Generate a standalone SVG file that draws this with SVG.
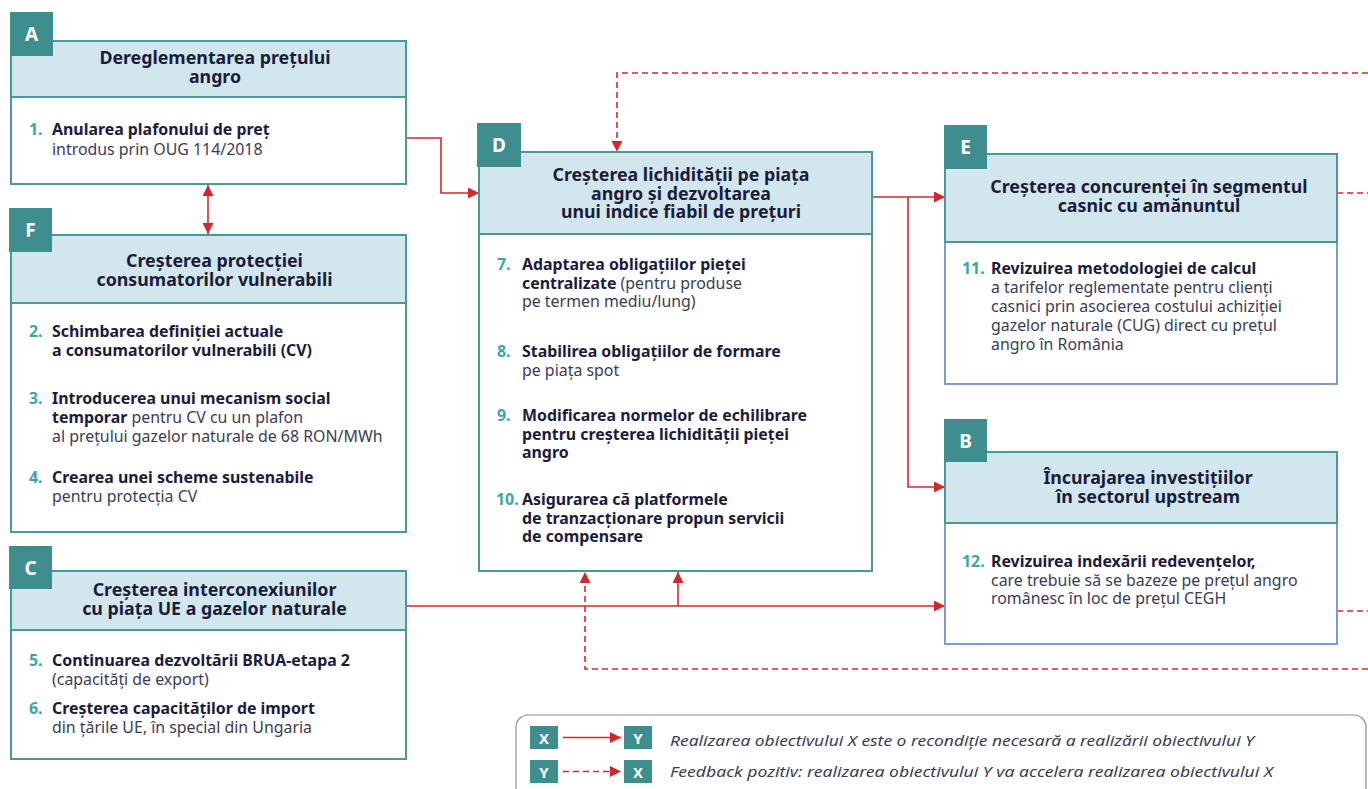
<svg xmlns="http://www.w3.org/2000/svg" width="1368" height="789" viewBox="0 0 1368 789">
  <defs>
    <marker id="arr" viewBox="0 0 10 10" refX="10" refY="5" markerWidth="11" markerHeight="11" markerUnits="userSpaceOnUse" orient="auto-start-reverse">
      <path d="M0,0 L10,5 L0,10 z" fill="#d2282d"/>
    </marker>
    <style>
      .hdr { fill: #d2e7ed; stroke: #4a9899; stroke-width: 2; }
      .body { fill: #ffffff; stroke: #4a9899; stroke-width: 2; }
      .bodyb { fill: #ffffff; stroke: #7b9ccf; stroke-width: 2; }
      .tag { fill: #3e8e8f; }
      .tagt { font-family: "Noto Sans", "Liberation Sans", sans-serif; font-weight: 700; font-size: 19px; fill: #ffffff; text-anchor: middle; }
      .ttl { font-family: "Noto Sans", "Liberation Sans", sans-serif; font-weight: 700; font-size: 17.8px; fill: #1b1c3c; text-anchor: middle; }
      .it { font-family: "Noto Sans", "Liberation Sans", sans-serif; font-size: 15.9px; fill: #3b3c55; }
      .b { font-weight: 700; fill: #1b1c3c; }
      .num { font-family: "Noto Sans", "Liberation Sans", sans-serif; font-weight: 700; font-size: 15.9px; fill: #3aa6a8; }
      .ln { fill: none; stroke: #d2282d; stroke-width: 1.6; }
      .dash { stroke-dasharray: 6 4; }
      .leg { font-family: "Noto Sans", "Liberation Sans", sans-serif; font-style: italic; font-size: 14.5px; fill: #3b3c55; }
    </style>
  </defs>

  <g id="connectors">
    <path class="ln" d="M406,138 H441 V193 H479" marker-end="url(#arr)"/>
    <path class="ln" d="M208,185 V234" marker-start="url(#arr)" marker-end="url(#arr)"/>
    <path class="ln" d="M872,197 H945" marker-end="url(#arr)"/>
    <path class="ln" d="M908,197 V487 H945" marker-end="url(#arr)"/>
    <path class="ln" d="M406,606 H945" marker-end="url(#arr)"/>
    <path class="ln" d="M678,606 V572" marker-end="url(#arr)"/>
    <path class="ln dash" d="M1368,73 H617 V152" marker-end="url(#arr)"/>
    <path class="ln dash" d="M1337,193 H1368"/>
    <path class="ln dash" d="M1337,611 H1368"/>
    <path class="ln dash" d="M1368,669 H585 V572" marker-end="url(#arr)"/>
  </g>

  <!-- A -->
  <g id="nodeA">
    <rect class="body" x="11" y="97" width="395" height="87"/>
    <rect class="hdr" x="11" y="41" width="395" height="56"/>
    <rect class="tag" x="10" y="12" width="43" height="44"/>
    <text class="tagt" x="31.5" y="41">A</text>
    <text class="ttl" x="215" y="64">Dereglementarea prețului<tspan x="215" dy="19">angro</tspan></text>
    <text class="num" x="29" y="135">1.</text>
    <text class="it" x="52" y="135"><tspan class="b">Anularea plafonului de preț</tspan><tspan x="52" dy="20">introdus prin OUG 114/2018</tspan></text>
  </g>

  <!-- F -->
  <g id="nodeF">
    <rect class="body" x="11" y="303" width="395" height="229"/>
    <rect class="hdr" x="11" y="235" width="395" height="68"/>
    <rect class="tag" x="9" y="208" width="43" height="44"/>
    <text class="tagt" x="30.5" y="237">F</text>
    <text class="ttl" x="214.5" y="267">Creșterea protecției<tspan x="214.5" dy="19">consumatorilor vulnerabili</tspan></text>
    <text class="num" x="29" y="337">2.</text>
    <text class="it" x="52" y="337"><tspan class="b">Schimbarea definiției actuale</tspan><tspan class="b" x="52" dy="19">a consumatorilor vulnerabili (CV)</tspan></text>
    <text class="num" x="29" y="404">3.</text>
    <text class="it" x="52" y="404"><tspan class="b">Introducerea unui mecanism social</tspan><tspan class="b" x="52" dy="19">temporar</tspan> pentru CV cu un plafon<tspan x="52" dy="19">al prețului gazelor naturale de 68 RON/MWh</tspan></text>
    <text class="num" x="29" y="483">4.</text>
    <text class="it" x="52" y="483"><tspan class="b">Crearea unei scheme sustenabile</tspan><tspan x="52" dy="19">pentru protecția CV</tspan></text>
  </g>

  <!-- C -->
  <g id="nodeC">
    <rect class="body" x="11" y="630" width="395" height="129"/>
    <rect class="hdr" x="11" y="571" width="395" height="59"/>
    <rect class="tag" x="9" y="546" width="43" height="43"/>
    <text class="tagt" x="30.5" y="575">C</text>
    <text class="ttl" x="214.5" y="596">Creșterea interconexiunilor<tspan x="214.5" dy="19">cu piața UE a gazelor naturale</tspan></text>
    <text class="num" x="29" y="666">5.</text>
    <text class="it" x="52" y="666"><tspan class="b">Continuarea dezvoltării BRUA-etapa 2</tspan><tspan x="52" dy="19">(capacități de export)</tspan></text>
    <text class="num" x="29" y="714">6.</text>
    <text class="it" x="52" y="714"><tspan class="b">Creșterea capacităților de import</tspan><tspan x="52" dy="19">din țările UE, în special din Ungaria</tspan></text>
  </g>

  <!-- D -->
  <g id="nodeD">
    <rect class="body" x="479" y="234" width="393" height="337"/>
    <rect class="hdr" x="479" y="152" width="393" height="82"/>
    <rect class="tag" x="477" y="123" width="44" height="44"/>
    <text class="tagt" x="499" y="152">D</text>
    <text class="ttl" x="681" y="181">Creșterea lichidității pe piața<tspan x="681" dy="18.5">angro și dezvoltarea</tspan><tspan x="681" dy="18.5">unui indice fiabil de prețuri</tspan></text>
    <text class="num" x="497" y="270">7.</text>
    <text class="it" x="522" y="270"><tspan class="b">Adaptarea obligațiilor pieței</tspan><tspan class="b" x="522" dy="18.5">centralizate</tspan> (pentru produse<tspan x="522" dy="18.5">pe termen mediu/lung)</tspan></text>
    <text class="num" x="497" y="357">8.</text>
    <text class="it" x="522" y="357"><tspan class="b">Stabilirea obligațiilor de formare</tspan><tspan x="522" dy="19">pe piața spot</tspan></text>
    <text class="num" x="497" y="421">9.</text>
    <text class="it" x="522" y="421"><tspan class="b">Modificarea normelor de echilibrare</tspan><tspan class="b" x="522" dy="18.5">pentru creșterea lichidității pieței</tspan><tspan class="b" x="522" dy="18.5">angro</tspan></text>
    <text class="num" x="496" y="505">10.</text>
    <text class="it" x="522" y="505"><tspan class="b">Asigurarea că platformele</tspan><tspan class="b" x="522" dy="18.5">de tranzacționare propun servicii</tspan><tspan class="b" x="522" dy="18.5">de compensare</tspan></text>
  </g>

  <!-- E -->
  <g id="nodeE">
    <rect class="bodyb" x="945" y="242" width="392" height="142"/>
    <rect class="hdr" x="945" y="154" width="392" height="88"/>
    <rect class="tag" x="944" y="125" width="43" height="44"/>
    <text class="tagt" x="965.5" y="154">E</text>
    <text class="ttl" x="1149" y="193">Creșterea concurenței în segmentul<tspan x="1149" dy="19">casnic cu amănuntul</tspan></text>
    <text class="num" x="962" y="274">11.</text>
    <text class="it" x="991" y="274"><tspan class="b">Revizuirea metodologiei de calcul</tspan><tspan x="991" dy="19">a tarifelor reglementate pentru clienți</tspan><tspan x="991" dy="19">casnici prin asocierea costului achiziției</tspan><tspan x="991" dy="19">gazelor naturale (CUG) direct cu prețul</tspan><tspan x="991" dy="19">angro în România</tspan></text>
  </g>

  <!-- B -->
  <g id="nodeB">
    <rect class="bodyb" x="945" y="523" width="392" height="121"/>
    <rect class="hdr" x="945" y="452" width="392" height="71"/>
    <rect class="tag" x="944" y="419" width="43" height="43"/>
    <text class="tagt" x="965.5" y="448">B</text>
    <text class="ttl" x="1148" y="484">Încurajarea investițiilor<tspan x="1148" dy="19">în sectorul upstream</tspan></text>
    <text class="num" x="962" y="567">12.</text>
    <text class="it" x="991" y="567"><tspan class="b">Revizuirea indexării redevențelor,</tspan><tspan x="991" dy="19">care trebuie să se bazeze pe prețul angro</tspan><tspan x="991" dy="18">românesc în loc de prețul CEGH</tspan></text>
  </g>

  <!-- legend -->
  <g id="legend">
    <rect x="516" y="715" width="850" height="90" rx="12" fill="#ffffff" stroke="#8a8f99" stroke-width="1.2"/>
    <rect class="tag" x="530" y="726" width="28" height="23"/>
    <text class="tagt" x="544" y="744" style="font-size:15px">X</text>
    <path class="ln" d="M563,737.5 H621" marker-end="url(#arr)"/>
    <rect class="tag" x="624" y="726" width="28" height="23"/>
    <text class="tagt" x="638" y="744" style="font-size:15px">Y</text>
    <text class="leg" x="670" y="746" textLength="584" lengthAdjust="spacingAndGlyphs">Realizarea obiectivului X este o recondiție necesară a realizării obiectivului Y</text>
    <rect class="tag" x="530" y="760" width="28" height="23"/>
    <text class="tagt" x="544" y="778" style="font-size:15px">Y</text>
    <path class="ln dash" d="M563,771.5 H621" marker-end="url(#arr)"/>
    <rect class="tag" x="624" y="760" width="28" height="23"/>
    <text class="tagt" x="638" y="778" style="font-size:15px">X</text>
    <text class="leg" x="670" y="777" textLength="603" lengthAdjust="spacingAndGlyphs">Feedback pozitiv: realizarea obiectivului Y va accelera realizarea obiectivului X</text>
  </g>
</svg>
